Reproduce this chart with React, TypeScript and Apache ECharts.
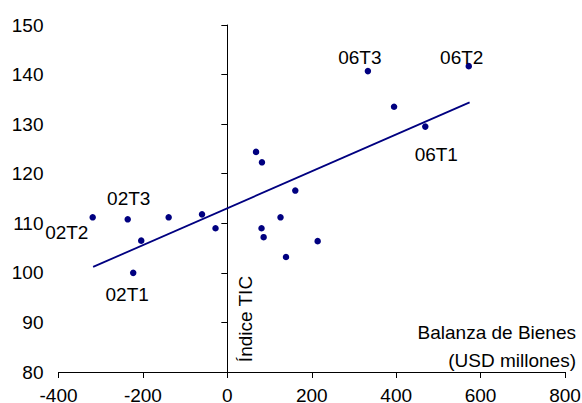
import React, { useEffect, useRef } from "react";
import * as echarts from "echarts";

// Data
const pointNames = [
  "02T1", "02T2", "02T3", "", "", "", "", "", "", "", "", "", "", "", "", "", "06T1", "06T2", "06T3",
];
const balanzaBienes = [
  -223, -319, -236, -204, -139, -60, -28, 68, 82, 81, 86, 126, 139, 161, 214, 395, 469, 572, 333,
];
const indiceTIC = [
  100.0, 111.2, 110.8, 106.5, 111.2, 111.8, 109.0, 124.4, 122.3, 109.0, 107.2, 111.2, 103.2, 116.6, 106.4, 133.5, 129.5, 141.7, 140.7,
];
const trendX = [-318, 574];
const trendY = [101.2, 134.4];
const xTicks = { min: -400, max: 800, interval: 200 };
const yTicks = { min: 80, max: 150, interval: 10 };

// label placement (styling)
const labelPlacement: Record<string, { position: string; offset: number[] }> = {
  "02T1": { position: "bottom", offset: [-6, 4] },
  "02T2": { position: "left", offset: [4, 15] },
  "02T3": { position: "top", offset: [1, -3] },
  "06T1": { position: "bottom", offset: [11, 10] },
  "06T2": { position: "top", offset: [-7, 9] },
  "06T3": { position: "top", offset: [-8, 4] },
};

const FONT = "Liberation Sans, Arial, sans-serif";
const NAVY = "#000080";

export default function App() {
  const ref = useRef<HTMLDivElement>(null);

  useEffect(() => {
    document.body.style.margin = "0";
    if (!ref.current) return;
    const chart = echarts.init(ref.current, null, { renderer: "svg" });

    const scatterData = balanzaBienes.map((x, i) => {
      const name = pointNames[i];
      const item: any = { name, value: [x, indiceTIC[i]] };
      if (name && labelPlacement[name]) {
        item.label = {
          show: true,
          position: labelPlacement[name].position,
          offset: labelPlacement[name].offset,
          distance: 5,
        };
      }
      return item;
    });

    chart.setOption({
      animation: false,
      backgroundColor: "#fff",
      textStyle: { fontFamily: FONT },
      grid: {
        left: 58.5,
        right: 17,
        top: 25,
        bottom: 31,
        containLabel: false,
        outerBoundsMode: "none",
      },
      xAxis: {
        type: "value",
        min: xTicks.min,
        max: xTicks.max,
        interval: xTicks.interval,
        splitLine: { show: false },
        axisLine: { show: true, onZero: false, lineStyle: { color: "#000", width: 1 } },
        axisTick: { show: true, length: 6, inside: false, lineStyle: { color: "#000" } },
        axisLabel: { color: "#000", fontSize: 19, fontFamily: FONT, margin: 14 },
      },
      yAxis: [
        {
          type: "value",
          position: "left",
          min: yTicks.min,
          max: yTicks.max,
          interval: yTicks.interval,
          splitLine: { show: false },
          axisLine: { show: false, onZero: false },
          axisTick: { show: false },
          axisLabel: { color: "#000", fontSize: 19, fontFamily: FONT, margin: 15 },
        },
        {
          type: "value",
          position: "left",
          min: yTicks.min,
          max: yTicks.max,
          interval: yTicks.interval,
          splitLine: { show: false },
          axisLine: { show: true, onZero: true, lineStyle: { color: "#000", width: 1 } },
          axisTick: { show: true, length: 6, inside: false, lineStyle: { color: "#000" } },
          axisLabel: { show: false },
        },
      ],
      series: [
        {
          type: "line",
          data: trendX.map((x, i) => [x, trendY[i]]),
          showSymbol: false,
          symbol: "none",
          lineStyle: { color: NAVY, width: 1.8 },
          silent: true,
          z: 1,
        },
        {
          type: "scatter",
          data: scatterData,
          symbol: "circle",
          symbolSize: 6.5,
          itemStyle: { color: NAVY, opacity: 1 },
          label: {
            show: false,
            formatter: "{b}",
            color: "#000",
            fontSize: 19,
            fontFamily: FONT,
          },
          z: 2,
        },
      ],
      graphic: [
        {
          type: "text",
          x: 245,
          y: 319,
          rotation: Math.PI / 2,
          style: {
            text: "Índice TIC",
            fill: "#000",
            font: `19px ${FONT}`,
            textAlign: "center",
            textVerticalAlign: "middle",
          },
        },
        {
          type: "text",
          x: 576,
          y: 332,
          style: {
            text: "Balanza de Bienes",
            fill: "#000",
            font: `19px ${FONT}`,
            textAlign: "right",
            textVerticalAlign: "middle",
          },
        },
        {
          type: "text",
          x: 576,
          y: 360,
          style: {
            text: "(USD millones)",
            fill: "#000",
            font: `19px ${FONT}`,
            textAlign: "right",
            textVerticalAlign: "middle",
          },
        },
      ],
    });

    return () => chart.dispose();
  }, []);

  return (
    <div
      ref={ref}
      style={{ position: "absolute", left: 0, top: 0, width: 582, height: 403 }}
    />
  );
}
